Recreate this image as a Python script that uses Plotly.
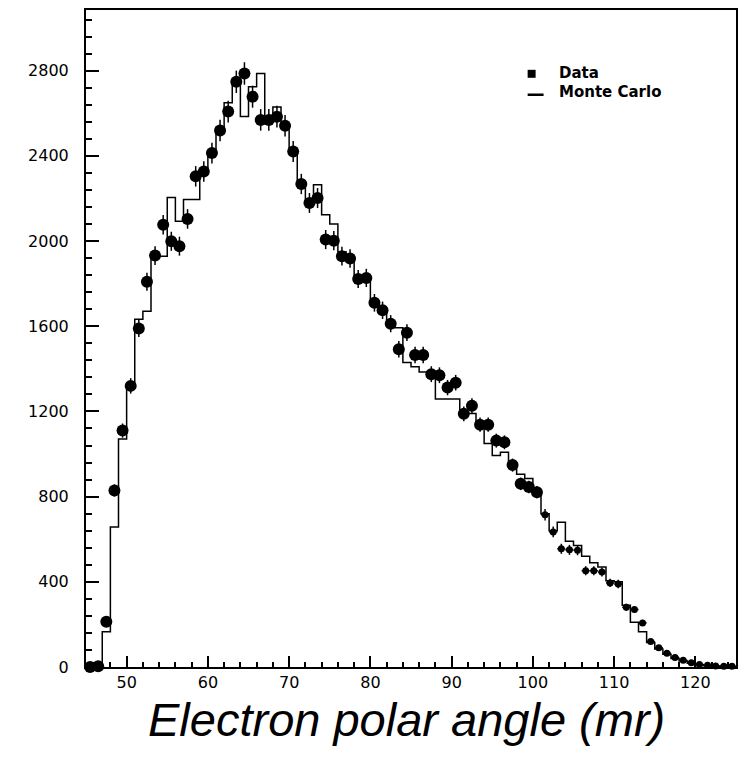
import plotly.graph_objects as go

# ---- data ----
bin_low_edges = list(range(45, 125))          # 1 mr bins, 45 .. 125 mr
data_counts = [
    0, 3, 212, 829, 1110, 1320, 1589, 1809, 1932, 2077,
    1999, 1976, 2104, 2304, 2327, 2413, 2519, 2608, 2748, 2787,
    2678, 2569, 2569, 2584, 2542, 2421, 2268, 2179, 2202, 2007,
    2002, 1929, 1918, 1822, 1827, 1710, 1675, 1612, 1492, 1570,
    1465, 1465, 1375, 1370, 1312, 1335, 1189, 1227, 1138, 1138,
    1063, 1055, 948, 860, 845, 821, 715, 634, 555, 550,
    548, 452, 452, 446, 395, 390, 280, 270, 207, 120,
    90, 65, 45, 32, 20, 12, 8, 5, 4, 3,
]
mc_counts = [
    0, 0, 165, 657, 1071, 1310, 1633, 1671, 1929, 1929,
    2205, 2093, 2195, 2195, 2320, 2420, 2520, 2650, 2760, 2585,
    2725, 2787, 2570, 2630, 2550, 2420, 2270, 2180, 2264, 2124,
    2080, 1950, 1925, 1830, 1825, 1720, 1680, 1620, 1593, 1430,
    1410, 1385, 1375, 1258, 1258, 1258, 1195, 1190, 1140, 1050,
    993, 1008, 955, 905, 885, 830, 720, 640, 680, 590,
    570, 520, 490, 470, 405, 400, 290, 210, 165, 115,
    85, 60, 40, 28, 18, 10, 6, 4, 3, 2,
]
x_tick_vals = [50, 60, 70, 80, 90, 100, 110, 120]
y_tick_vals = [0, 400, 800, 1200, 1600, 2000, 2400, 2800]
x_title = "Electron polar angle (mr)"
legend_labels = ["Data", "Monte Carlo"]

# ---- derived ----
bin_width = 1.0
centers = [b + bin_width / 2 for b in bin_low_edges]
edges = bin_low_edges + [bin_low_edges[-1] + bin_width]
mc_step = mc_counts + [mc_counts[-1]]
marker_sizes = [12 if c < 101.5 else 7 for c in centers]

W, H = 746, 759
ML, MR, MT, MB = 86, 8, 8, 92
PW, PH = W - ML - MR, H - MT - MB


def px_x(px):   # page pixel -> paper x
    return (px - ML) / PW


def px_y(py):   # page pixel -> paper y
    return (H - MB - py) / PH


fig = go.Figure()
fig.add_trace(go.Scatter(
    x=edges, y=mc_step, mode="lines", name=legend_labels[1],
    line=dict(shape="hv", color="black", width=1.5), showlegend=False,
))
fig.add_trace(go.Scatter(
    x=centers, y=data_counts, mode="markers", name=legend_labels[0],
    marker=dict(symbol="circle", size=marker_sizes, color="black",
                opacity=1, line=dict(width=0)),
    error_y=dict(type="sqrt", color="black", thickness=1.5, width=0),
    error_x=dict(type="constant", value=bin_width / 2, color="black", thickness=1.5, width=0),
    cliponaxis=False, showlegend=False,
))

tickfont = dict(family="DejaVu Sans", size=16, color="black")
legfont = dict(family="DejaVu Sans", size=15, color="black", weight="bold")

fig.update_layout(
    width=W, height=H,
    margin=dict(l=ML, r=MR, t=MT, b=MB, pad=0),
    paper_bgcolor="white", plot_bgcolor="white",
    showlegend=False,
    xaxis=dict(
        range=[edges[0], edges[-1]],
        showline=True, linecolor="black", linewidth=2, mirror=True,
        showgrid=False, zeroline=False,
        tickmode="array", tickvals=x_tick_vals,
        ticks="inside", ticklen=11, tickwidth=1.5, tickcolor="black",
        minor=dict(tickmode="linear", tick0=0, dtick=2, ticks="inside",
                   ticklen=5, tickwidth=1.5, tickcolor="black", showgrid=False),
        tickfont=tickfont, ticklabelstandoff=0,
    ),
    yaxis=dict(
        range=[0, 3085],
        showline=True, linecolor="black", linewidth=2, mirror=True,
        showgrid=False, zeroline=False,
        tickmode="array", tickvals=y_tick_vals,
        ticks="inside", ticklen=13, tickwidth=1.5, tickcolor="black",
        minor=dict(tickmode="linear", tick0=0, dtick=80, ticks="inside",
                   ticklen=6, tickwidth=1.5, tickcolor="black", showgrid=False),
        tickfont=tickfont, ticklabelstandoff=12,
    ),
    annotations=[
        dict(text=x_title, xref="paper", yref="paper",
             x=px_x(407.5), y=px_y(720), xanchor="center", yanchor="middle",
             showarrow=False,
             font=dict(family="Liberation Sans", size=47, color="black", style="italic")),
        dict(text=legend_labels[0], xref="paper", yref="paper",
             x=px_x(558), y=px_y(71), xanchor="left", yanchor="middle",
             showarrow=False, font=legfont),
        dict(text=legend_labels[1], xref="paper", yref="paper",
             x=px_x(558), y=px_y(90.5), xanchor="left", yanchor="middle",
             showarrow=False, font=legfont),
    ],
    shapes=[
        # legend glyphs
        dict(type="rect", xref="paper", yref="paper",
             x0=px_x(529), x1=px_x(537), y0=px_y(76), y1=px_y(68),
             fillcolor="black", line=dict(width=0)),
        dict(type="line", xref="paper", yref="paper",
             x0=px_x(529), x1=px_x(545), y0=px_y(93), y1=px_y(93),
             line=dict(color="black", width=2.5)),
    ],
)

fig.write_html("out.html")
